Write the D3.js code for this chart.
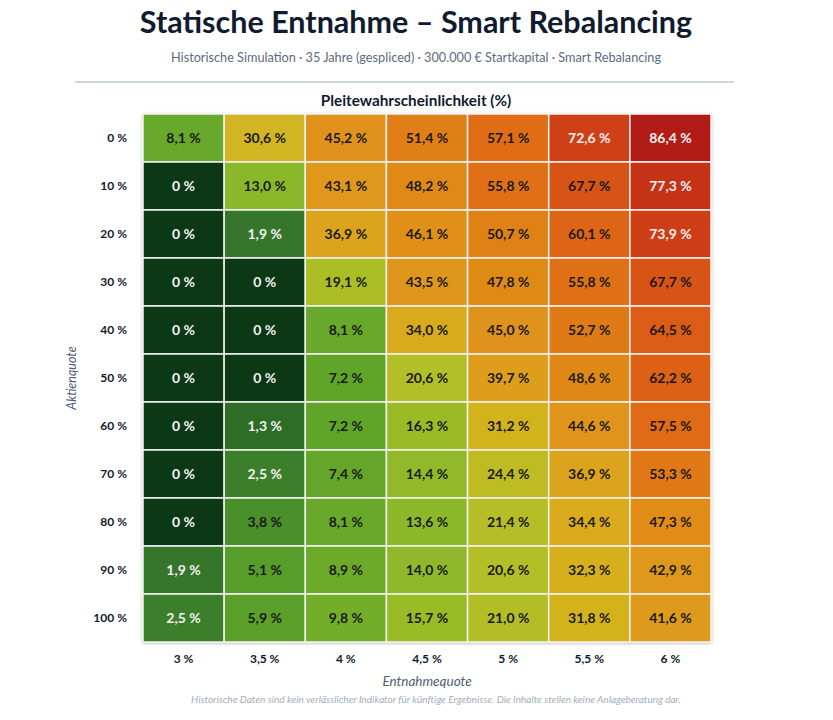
<!DOCTYPE html>
<html>
<head>
<meta charset="utf-8">
<script src="https://cdn.jsdelivr.net/npm/d3@7"></script>
<style>
body { margin:0; background:#fff; font-family: Lato, "Noto Sans", sans-serif; }
</style>
</head>
<body>
<div class="chart"></div>
<script>
var rates = ["3 %","3,5 %","4 %","4,5 %","5 %","5,5 %","6 %"]
var quotes = ["0 %","10 %","20 %","30 %","40 %","50 %","60 %","70 %","80 %","90 %","100 %"]

// Pleitewahrscheinlichkeit je Aktienquote (Zeile) und Entnahmequote (Spalte)
var q0   = [8.1, 30.6, 45.2, 51.4, 57.1, 72.6, 86.4]
var q10  = [0, 13.0, 43.1, 48.2, 55.8, 67.7, 77.3]
var q20  = [0, 1.9, 36.9, 46.1, 50.7, 60.1, 73.9]
var q30  = [0, 0, 19.1, 43.5, 47.8, 55.8, 67.7]
var q40  = [0, 0, 8.1, 34.0, 45.0, 52.7, 64.5]
var q50  = [0, 0, 7.2, 20.6, 39.7, 48.6, 62.2]
var q60  = [0, 1.3, 7.2, 16.3, 31.2, 44.6, 57.5]
var q70  = [0, 2.5, 7.4, 14.4, 24.4, 36.9, 53.3]
var q80  = [0, 3.8, 8.1, 13.6, 21.4, 34.4, 47.3]
var q90  = [1.9, 5.1, 8.9, 14.0, 20.6, 32.3, 42.9]
var q100 = [2.5, 5.9, 9.8, 15.7, 21.0, 31.8, 41.6]
var rows = [q0,q10,q20,q30,q40,q50,q60,q70,q80,q90,q100]

var width = 833, height = 720
var svg = d3.select(".chart").append("svg").attr("width",width).attr("height",height)

var defs = svg.append("defs")
var f = defs.append("filter").attr("id","glow").attr("x","-5%").attr("y","-5%").attr("width","110%").attr("height","110%")
f.append("feDropShadow").attr("dx",0).attr("dy",1).attr("stdDeviation",1.5).attr("flood-color","#000").attr("flood-opacity",0.25)

// titles
svg.append("text").attr("x",416).attr("y",33).attr("text-anchor","middle")
	.attr("fill","#111a2e").style("font-size","30.5px").style("font-weight","bold")
	.text("Statische Entnahme – Smart Rebalancing")
svg.append("text").attr("x",416).attr("y",62).attr("text-anchor","middle")
	.attr("fill","#5c6b80").style("font-size","12.7px")
	.text("Historische Simulation · 35 Jahre (gespliced) · 300.000 € Startkapital · Smart Rebalancing")
svg.append("line").attr("x1",75).attr("x2",734).attr("y1",82).attr("y2",82)
	.attr("stroke","#cdd7e2").attr("stroke-width",2)
svg.append("text").attr("x",416).attr("y",106).attr("text-anchor","middle")
	.attr("fill","#111a2e").style("font-size","15.3px").style("font-weight","bold")
	.text("Pleitewahrscheinlichkeit (%)")

//scales
var x = d3.scaleBand().domain(rates).range([143,711])
var y = d3.scaleBand().domain(quotes).range([114,642])
var color = d3.scaleLinear()
	.domain([0, 1.3, 2.5, 5, 8, 13, 20, 30, 36, 45, 51, 57, 67, 73, 86.4])
	.range(["#113817","#2d6d28","#3a7f2a","#559d2a","#66a82a","#89b82a","#b0bf26","#d1b720","#dca51c","#e0931a","#e08017","#e06c15","#d85615","#cf3f15","#b21a15"])

var cells = []
rows.forEach(function(r,i){
	r.forEach(function(v,j){ cells.push({q:quotes[i], r:rates[j], v:v}) })
})

var grid = svg.append("g").attr("filter","url(#glow)")
grid.selectAll("rect").data(cells).enter().append("rect")
	.attr("x",function(d){return x(d.r)})
	.attr("y",function(d){return y(d.q)})
	.attr("width",x.bandwidth())
	.attr("height",y.bandwidth())
	.attr("fill",function(d){return color(d.v)})
	.attr("stroke","#f4f4f4").attr("stroke-width",1.5)

var fmt = function(v){ return v == 0 ? "0 %" : d3.format(".1f")(v).replace(".",",") + " %" }
svg.append("g").selectAll("text").data(cells).enter().append("text")
	.attr("x",function(d){return x(d.r) + x.bandwidth()/2})
	.attr("y",function(d){return y(d.q) + y.bandwidth()/2 + 5})
	.attr("text-anchor","middle")
	.style("font-size","14px").style("font-weight","bold")
	.attr("fill",function(d){ return (d.v < 3 || d.v > 70) ? "#f2f2f2" : "#1a1a1a" })
	.text(function(d){return fmt(d.v)})

// axis labels
svg.append("g").selectAll("text").data(quotes).enter().append("text")
	.attr("x",127).attr("y",function(d){return y(d) + y.bandwidth()/2 + 4})
	.attr("text-anchor","end").attr("fill","#111a2e")
	.style("font-size","12px").style("font-weight","bold")
	.text(function(d){return d})
svg.append("g").selectAll("text").data(rates).enter().append("text")
	.attr("x",function(d){return x(d) + x.bandwidth()/2}).attr("y",663)
	.attr("text-anchor","middle").attr("fill","#111a2e")
	.style("font-size","12px").style("font-weight","bold")
	.text(function(d){return d})

svg.append("text").attr("x",427).attr("y",686).attr("text-anchor","middle")
	.attr("fill","#4f5d72").style("font-size","13.5px").style("font-style","italic")
	.text("Entnahmequote")
svg.append("text").attr("transform","translate(76,378) rotate(-90)").attr("text-anchor","middle")
	.attr("fill","#4f5d72").style("font-size","12.5px").style("font-style","italic")
	.text("Aktienquote")
svg.append("text").attr("x",436).attr("y",703).attr("text-anchor","middle")
	.attr("fill","#a3adbb").style("font-size","10px").style("font-style","italic")
	.text("Historische Daten sind kein verlässlicher Indikator für künftige Ergebnisse. Die Inhalte stellen keine Anlageberatung dar.")
</script>
</body>
</html>
